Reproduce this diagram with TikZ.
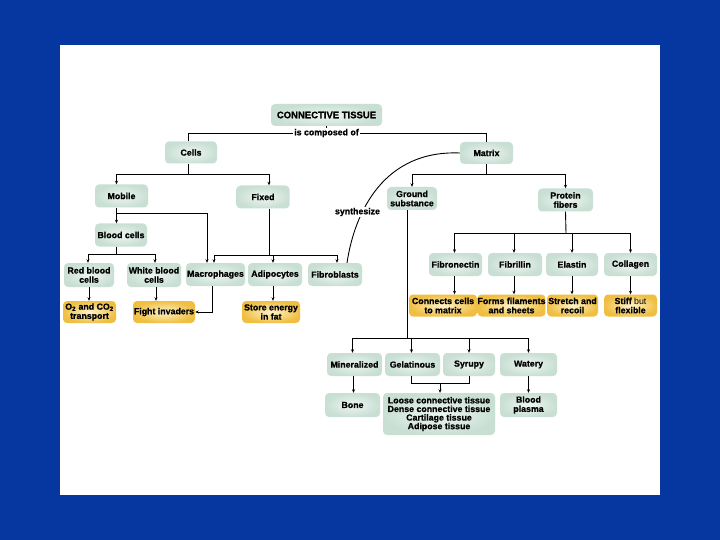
\documentclass[tikz,border=0pt]{standalone}
\usepackage{fontspec}
\setmainfont[BoldFeatures={FakeBold=0.8}]{Liberation Sans}
\usetikzlibrary{arrows.meta}
\definecolor{bgblue}{HTML}{0636A0}
\definecolor{gin}{HTML}{EEF6F2}
\definecolor{gout}{HTML}{C9DFD4}
\definecolor{yin}{HTML}{FDF3CC}
\definecolor{yout}{HTML}{F0BF42}
\tikzset{
  box/.style={rounded corners=4pt, align=center, inner sep=0pt,
    font=\bfseries\fontsize{8.8}{9.2}\selectfont, minimum height=23pt},
  gbox/.style={box, shade, inner color=gin, outer color=gout},
  ybox/.style={box, shade, inner color=yin, outer color=yout},
  conn/.style={line width=0.9pt, black},
  arr/.style={conn, -{Stealth[length=3.5pt,width=3pt]}},
  lbl/.style={fill=white, inner sep=1pt, font=\bfseries\fontsize{8.8}{9.2}\selectfont}
}
\begin{document}
\begin{tikzpicture}[x=1pt,y=-1pt]
\useasboundingbox (0,0) rectangle (720,540);
\fill[bgblue] (0,0) rectangle (720,540);
\fill[white] (60,45) rectangle (660,495);

% nodes
\node[gbox, minimum width=111pt, minimum height=22pt, font=\bfseries\fontsize{9.5}{9.5}\selectfont] (ct) at (326.5,115) {CONNECTIVE TISSUE};
\node[gbox, minimum width=52pt, minimum height=22pt] (cells) at (191,152.5) {Cells};
\node[gbox, minimum width=53pt, minimum height=22pt] (matrix) at (486.5,153) {Matrix};
\node[gbox, minimum width=53pt] (mobile) at (121.5,196) {Mobile};
\node[gbox, minimum width=53pt] (fixed) at (263,197) {Fixed};
\node[gbox, minimum width=50pt] (ground) at (412,198.5) {Ground\\substance};
\node[gbox, minimum width=55pt] (protein) at (565.5,200) {Protein\\fibers};
\node[gbox, minimum width=52pt] (blood) at (121,235) {Blood cells};
\node[gbox, minimum width=50pt, minimum height=24pt] (rbc) at (89,275) {Red blood\\cells};
\node[gbox, minimum width=54pt, minimum height=24pt] (wbc) at (154,275) {White blood\\cells};
\node[gbox, minimum width=59pt] (macro) at (215.5,274.5) {Macrophages};
\node[gbox, minimum width=54pt] (adipo) at (275,274.5) {Adipocytes};
\node[gbox, minimum width=54pt] (fibro) at (335,274.5) {Fibroblasts};
\node[ybox, minimum width=53pt, minimum height=22pt] (o2) at (89.5,312) {O\textsubscript{2} and CO\textsubscript{2}\\transport};
\node[ybox, minimum width=62pt, minimum height=22pt] (fight) at (164,312) {Fight invaders};
\node[ybox, minimum width=58pt, minimum height=22pt] (store) at (271,312) {Store energy\\in fat};
\node[gbox, minimum width=53pt] (fibron) at (455.5,264.5) {Fibronectin};
\node[gbox, minimum width=54pt] (fibril) at (515,264.5) {Fibrillin};
\node[gbox, minimum width=52pt] (elastin) at (572,264.5) {Elastin};
\node[gbox, minimum width=53pt] (collagen) at (630.5,264.5) {Collagen};
\node[ybox, minimum width=68pt, minimum height=22pt] (connects) at (443,305.5) {Connects cells\\to matrix};
\node[ybox, minimum width=67pt, minimum height=22pt] (forms) at (511.5,305.5) {Forms filaments\\and sheets};
\node[ybox, minimum width=51pt, minimum height=22pt] (stretch) at (572.5,305.5) {Stretch and\\recoil};
\node[ybox, minimum width=53pt, minimum height=22pt] (stiff) at (630.5,305.5) {Stiff {\mdseries but}\\flexible};
\node[gbox, minimum width=55pt] (mineral) at (354.5,364.5) {Mineralized};
\node[gbox, minimum width=55pt] (gelat) at (412.5,364.5) {Gelatinous};
\node[gbox, minimum width=52pt] (syrupy) at (469,364.5) {Syrupy};
\node[gbox, minimum width=57pt] (watery) at (528.5,364.5) {Watery};
\node[gbox, minimum width=55pt, minimum height=24pt] (bone) at (352.5,405) {Bone};
\node[gbox, minimum width=112pt, minimum height=42pt, font=\bfseries\fontsize{8.8}{8.6}\selectfont] (tissues) at (439,414) {Loose connective tissue\\Dense connective tissue\\Cartilage tissue\\Adipose tissue};
\node[gbox, minimum width=57pt, minimum height=24pt] (plasma) at (528.5,405) {Blood\\plasma};

% top level
\coordinate (cj) at (326.5,133);
\draw[conn] (ct.south) -- (cj);
\draw[conn] ([xshift=-3pt]cells.north) -- ([xshift=-3pt]cells.north |- cj) -- (matrix.north |- cj) -- (matrix.north);
\node[lbl] (composed) at (cj) {is composed of};

% cells branch
\coordinate (j1) at (188,174);
\draw[conn] ([xshift=-3pt]cells.south) -- (j1);
\draw[arr] (j1) -| ([xshift=-5pt]mobile.north);
\draw[arr] (j1) -| ([xshift=6pt]fixed.north);

% matrix branch
\coordinate (j2) at (486.5,174);
\draw[conn] (matrix.south) -- (j2);
\draw[arr] (j2) -| (ground.north);
\draw[arr] (j2) -| (protein.north);

% mobile
\coordinate (j3) at (116.5,213);
\draw[arr] ([xshift=-5pt]mobile.south) -- ([xshift=-4.5pt]blood.north);
\draw[arr] (j3) -| ([xshift=-8.5pt]macro.north);

% blood cells
\coordinate (j4) at (116.5,254);
\draw[conn] ([xshift=-4.5pt]blood.south) -- (j4);
\draw[arr] (j4) -| ([xshift=-1pt]rbc.north);
\draw[arr] (j4) -| ([xshift=1pt]wbc.north);

% fixed
\coordinate (j5) at (269,255);
\draw[conn] ([xshift=6pt]fixed.south) -- (j5);
\draw[arr] (j5) -| ([xshift=-1.5pt]macro.north);
\draw[arr] (j5) -| ([xshift=-2pt]adipo.north);
\draw[arr] (j5) -| ([xshift=2pt]fibro.north);

% functions
\draw[arr] (rbc.south) -- (rbc.south |- o2.north);
\draw[arr] ([xshift=2pt]wbc.south) -- ([xshift=2pt]wbc.south |- fight.north);
\draw[arr] ([xshift=-3pt]macro.south) |- (fight.east);
\draw[arr] ([xshift=-2pt]adipo.south) -- ([xshift=-2pt]adipo.south |- store.north);

% synthesize
\draw[conn] ([xshift=12pt]fibro.north) .. controls (355,210) and (385,150) .. (matrix.west);
\node[lbl] (synth) at (357.5,212) {synthesize};

% protein fibers
\coordinate (j8) at (566,233);
\draw[conn] (protein.south) -- (j8);
\draw[arr] (j8) -| ([xshift=-1pt]fibron.north);
\draw[arr] (j8) -| ([xshift=-1pt]fibril.north);
\draw[arr] (j8) -| (elastin.north);
\draw[arr] (j8) -| (collagen.north);
\draw[arr] ([xshift=-1pt]fibron.south) -- ([xshift=-1pt]fibron.south |- connects.north);
\draw[arr] ([xshift=-1pt]fibril.south) -- ([xshift=-1pt]fibril.south |- forms.north);
\draw[arr] (elastin.south) -- (elastin.south |- stretch.north);
\draw[arr, line width=1.3pt] (collagen.south) -- (collagen.south |- stiff.north);

% ground substance
\coordinate (j6) at (407,338);
\draw[conn] ([xshift=-5pt]ground.south) -- (j6);
\draw[arr] (j6) -| ([xshift=-2pt]mineral.north);
\draw[arr] (j6) -| ([xshift=-1pt]gelat.north);
\draw[arr] (j6) -| (syrupy.north);
\draw[arr] (j6) -| (watery.north);
\draw[arr] ([xshift=-1pt]mineral.south) -- ([xshift=-1pt]mineral.south |- bone.north);
\coordinate (j7) at (440,383);
\draw[conn] ([xshift=-1pt]gelat.south) |- (syrupy.south |- j7) -- (syrupy.south);
\draw[arr] (j7) -- (j7 |- tissues.north);
\draw[arr, line width=1.3pt] (watery.south) -- (plasma.north);
\end{tikzpicture}
\end{document}
